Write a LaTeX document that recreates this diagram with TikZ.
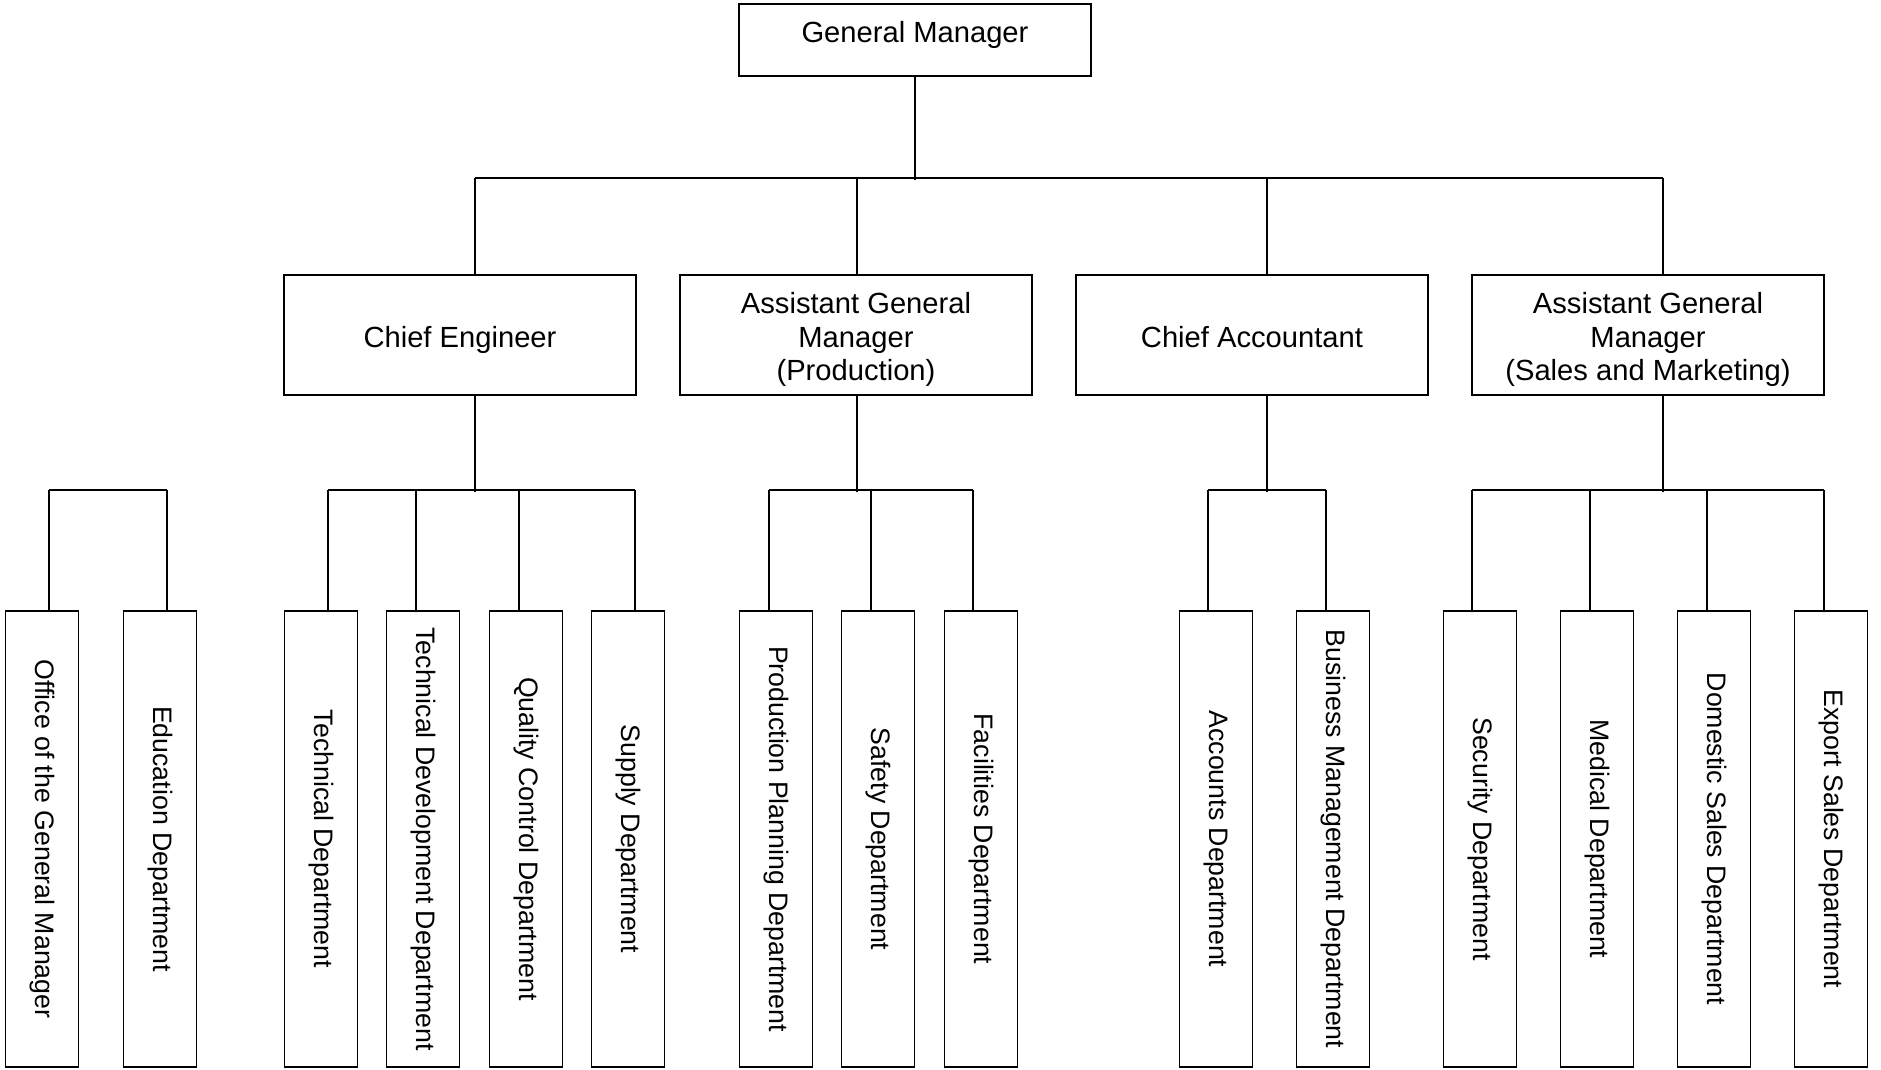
\documentclass[tikz,border=0pt]{standalone}
\usepackage{fontspec}
\setmainfont{Liberation Sans}
\usetikzlibrary{calc}

% box text raised or lowered, keeping its size
\newcommand{\nudge}[2]{\raisebox{#1}[\height][\depth]{\begin{tabular}{@{}c@{}}#2\end{tabular}}}

\tikzset{
  box/.style={draw, line width=1.1pt, inner sep=0pt, align=center},
  gmbox/.style={box, minimum width=7.04cm, minimum height=1.44cm, font=\fontsize{16.6}{19.1}\selectfont},
  mgrbox/.style={gmbox, minimum height=2.4cm},
  deptbox/.style={box, minimum width=1.46cm, minimum height=9.12cm, font=\fontsize{15.2}{18}\selectfont},
  link/.style={line width=1.1pt}
}

\begin{document}
\begin{tikzpicture}[x=0.02cm, y=-0.02cm]
	\useasboundingbox (0,0) rectangle (1881,1070);
	
	% top and managers
	\node[gmbox] (gm) at (915,40) {\nudge{2.3pt}{General Manager}};
	\node[mgrbox] (ce) at (460,335) {\nudge{-3.1pt}{Chief Engineer}};
	\node[mgrbox] (agp) at (856,335) {\nudge{-3.1pt}{Assistant General\\Manager\\(Production)}};
	\node[mgrbox] (ca) at (1252,335) {\nudge{-3.1pt}{Chief Accountant}};
	\node[mgrbox] (ags) at (1648,335) {\nudge{-3.1pt}{Assistant General\\Manager\\(Sales and Marketing)}};
	
	% departments
	\def\dy{839}
	\node[deptbox] (ofc) at (42,\dy) {\rotatebox{-90}{Office of the General Manager}};
	\node[deptbox] (edu) at (160,\dy) {\rotatebox{-90}{Education Department}};
	\node[deptbox] (tec) at (321,\dy) {\rotatebox{-90}{Technical Department}};
	\node[deptbox] (tdv) at (423,\dy) {\rotatebox{-90}{Technical Development Department}};
	\node[deptbox] (qcd) at (526,\dy) {\rotatebox{-90}{Quality Control Department}};
	\node[deptbox] (sup) at (628,\dy) {\rotatebox{-90}{Supply Department}};
	\node[deptbox] (ppd) at (776,\dy) {\rotatebox{-90}{Production Planning Department}};
	\node[deptbox] (saf) at (878,\dy) {\rotatebox{-90}{Safety Department}};
	\node[deptbox] (fac) at (981,\dy) {\rotatebox{-90}{Facilities Department}};
	\node[deptbox] (acc) at (1216,\dy) {\rotatebox{-90}{Accounts Department}};
	\node[deptbox] (bmd) at (1333,\dy) {\rotatebox{-90}{Business Management Department}};
	\node[deptbox] (scd) at (1480,\dy) {\rotatebox{-90}{Security Department}};
	\node[deptbox] (med) at (1597,\dy) {\rotatebox{-90}{Medical Department}};
	\node[deptbox] (dom) at (1714,\dy) {\rotatebox{-90}{Domestic Sales Department}};
	\node[deptbox] (exd) at (1831,\dy) {\rotatebox{-90}{Export Sales Department}};
	
	\begin{scope}[link]
		% upper level
		\draw (gm.south) -- ++(0,103);
		\draw ($ (ce.north) + (15,-96) $) -- ($ (ags.north) + (15,-96) $);
		\foreach \n/\dx in {ce/15, agp/1, ca/15, ags/15} {
			\draw ($ (\n.north) + (\dx,0) $) -- ++(0,-96);
			\draw ($ (\n.south) + (\dx,0) $) -- ++(0,96);
		}
		
		% lower level
		\foreach \n/\dx in {ofc/7, edu/7, tec/7, tdv/-7, qcd/-7, sup/7, ppd/-7, saf/-7, fac/-8, acc/-8, bmd/-7, scd/-8, med/-7, dom/-7, exd/-7}
			\draw ($ (\n.north) + (\dx,0) $) -- ++(0,-120);
		\draw ($ (ofc.north) + (7,-120) $) -- ($ (edu.north) + (7,-120) $);
		\draw ($ (tec.north) + (7,-120) $) -- ($ (sup.north) + (7,-120) $);
		\draw ($ (ppd.north) + (-7,-120) $) -- ($ (fac.north) + (-8,-120) $);
		\draw ($ (acc.north) + (-8,-120) $) -- ($ (bmd.north) + (-7,-120) $);
		\draw ($ (scd.north) + (-8,-120) $) -- ($ (exd.north) + (-7,-120) $);
	\end{scope}
\end{tikzpicture}
\end{document}
